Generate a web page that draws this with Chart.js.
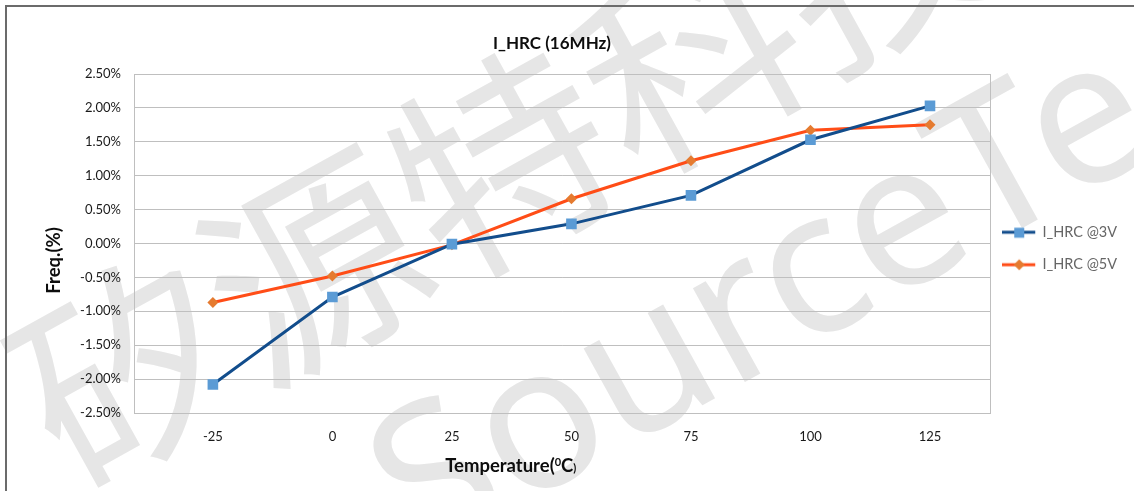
<!DOCTYPE html>
<html>
<head>
<meta charset="utf-8">
<script src="https://cdn.jsdelivr.net/npm/chart.js@4.4.1/dist/chart.umd.min.js"></script>
<style>
    html, body { margin: 0; padding: 0; background: #fff; overflow: hidden; }
    #wrap { position: relative; width: 1134px; height: 491px; }
    #grafico { position: absolute; left: 0; top: 0; }
    #moldura {
        position: absolute; left: 5px; top: 5px; width: 1300px; height: 700px;
        border-top: 2px solid #6b6b6b; border-left: 2px solid #6b6b6b;
        pointer-events: none;
    }
</style>
</head>
<body>
<div id="wrap">
    <canvas id="grafico" width="1134" height="491"></canvas>
    <div id="moldura"></div>
</div>
<script>
// dados
const temperaturas = [-25, 0, 25, 50, 75, 100, 125];
const hrc3V = [-2.08, -0.79, -0.01, 0.29, 0.71, 1.53, 2.03];
const hrc5V = [-0.87, -0.48, -0.02, 0.66, 1.22, 1.67, 1.75];
const nomesSeries = ['I_HRC @3V', 'I_HRC @5V'];
const tituloGrafico = 'I_HRC (16MHz)';
const tituloY = 'Freq.(%)';
const tituloX = ['Temperature(', '0', 'C', ')'];
const marcaDagua = ['矽源特科技', 'SourceTech'];

const azulLinha = '#124d8c';
const azulPonto = '#5b9bd5';
const laranjaLinha = '#ff4d17';
const laranjaPonto = '#e57b30';
const cinzaGrade = '#bfbfbf';

function pontos(valores) {
    return temperaturas.map((t, i) => ({ x: t, y: valores[i] }));
}

// ícone da legenda: linha com marcador no meio
function iconeLegenda(corLinha, corPonto, forma) {
    const c = document.createElement('canvas');
    c.width = 39;
    c.height = 14;
    const g = c.getContext('2d');
    g.strokeStyle = corLinha;
    g.lineWidth = 3;
    g.beginPath();
    g.moveTo(0, 7);
    g.lineTo(33, 7);
    g.stroke();
    g.fillStyle = corPonto;
    if (forma === 'rect') {
        g.fillRect(12, 2.5, 10, 10);
    } else {
        g.beginPath();
        g.moveTo(17, 1.5);
        g.lineTo(22.5, 7);
        g.lineTo(17, 12.5);
        g.lineTo(11.5, 7);
        g.closePath();
        g.fill();
    }
    return c;
}

const icones = [
    iconeLegenda(azulLinha, azulPonto, 'rect'),
    iconeLegenda(laranjaLinha, laranjaPonto, 'rectRot')
];

const pluginFundo = {
    id: 'fundo',
    beforeDraw(chart) {
        const ctx = chart.ctx;
        ctx.save();
        ctx.fillStyle = '#e6e6e6';
        ctx.textBaseline = 'alphabetic';
        ctx.font = '215px "Noto Sans CJK SC"';
        ctx.translate(72, 494);
        ctx.rotate(-29 * Math.PI / 180);
        ctx.fillText(marcaDagua[0], 0, 0);
        ctx.restore();
        ctx.save();
        ctx.fillStyle = '#e6e6e6';
        ctx.font = '200px "Noto Sans"';
        ctx.translate(420, 562);
        ctx.rotate(-29 * Math.PI / 180);
        ctx.fillText(marcaDagua[1], 0, 0);
        ctx.restore();
    },
    beforeDatasetsDraw(chart) {
        const a = chart.chartArea;
        const ctx = chart.ctx;
        ctx.save();
        ctx.strokeStyle = cinzaGrade;
        ctx.lineWidth = 1;
        ctx.strokeRect(Math.round(a.left) + 0.5, Math.round(a.top) + 0.5,
            Math.round(a.right - a.left), Math.round(a.bottom - a.top));
        ctx.restore();
    },
    afterDraw(chart) {
        const a = chart.chartArea;
        const ctx = chart.ctx;
        ctx.save();
        ctx.fillStyle = '#0d0d0d';
        // título do eixo Y
        ctx.font = 'bold 18.5px Lato';
        ctx.textAlign = 'center';
        ctx.textBaseline = 'middle';
        ctx.translate(54, a.top + (a.bottom - a.top) * 0.55);
        ctx.rotate(-Math.PI / 2);
        ctx.fillText(tituloY, 0, 0);
        ctx.restore();

        // título do eixo X com o 0 sobrescrito
        ctx.save();
        ctx.fillStyle = '#0d0d0d';
        ctx.textBaseline = 'alphabetic';
        const grande = 'bold 18.5px Lato';
        const pequeno = 'bold 11px Lato';
        ctx.font = grande;
        const w0 = ctx.measureText(tituloX[0]).width;
        const w2 = ctx.measureText(tituloX[2]).width;
        ctx.font = pequeno;
        const w1 = ctx.measureText(tituloX[1]).width;
        const w3 = ctx.measureText(tituloX[3]).width;
        const total = w0 + w1 + w2 + w3;
        const cx = a.left + (a.right - a.left) * 0.44;
        const base = 472;
        let x = cx - total / 2;
        ctx.font = grande;
        ctx.fillText(tituloX[0], x, base);
        x += w0;
        ctx.font = pequeno;
        ctx.fillText(tituloX[1], x, base - 6);
        x += w1;
        ctx.font = grande;
        ctx.fillText(tituloX[2], x, base);
        x += w2;
        ctx.font = pequeno;
        ctx.fillText(tituloX[3], x, base);
        ctx.restore();
    }
};

const graficoHRC = new Chart(document.getElementById('grafico'), {
    type: 'line',
    data: {
        datasets: [{
            label: nomesSeries[0],
            data: pontos(hrc3V),
            borderColor: azulLinha,
            backgroundColor: azulPonto,
            borderWidth: 3,
            pointStyle: 'rect',
            pointRadius: 7.5,
            pointBorderWidth: 0,
            pointBackgroundColor: azulPonto,
            tension: 0
        }, {
            label: nomesSeries[1],
            data: pontos(hrc5V),
            borderColor: laranjaLinha,
            backgroundColor: laranjaPonto,
            borderWidth: 3,
            pointStyle: 'rectRot',
            pointRadius: 5.5,
            pointBorderWidth: 0,
            pointBackgroundColor: laranjaPonto,
            tension: 0
        }]
    },
    options: {
        responsive: false,
        animation: false,
        events: [],
        layout: {
            padding: { left: -23, right: 7, top: 0, bottom: 0 }
        },
        plugins: {
            title: {
                display: true,
                text: tituloGrafico,
                color: '#0d0d0d',
                font: { family: 'Lato', size: 17, weight: 'bold', lineHeight: 1.2 },
                padding: { top: 33.8, bottom: 19.8 }
            },
            legend: {
                position: 'right',
                title: {
                    display: true,
                    text: '',
                    padding: 0,
                    font: { size: 5, lineHeight: 1.2 }
                },
                labels: {
                    usePointStyle: true,
                    pointStyleWidth: 27,
                    padding: 18,
                    color: '#1a1a1a',
                    font: { family: 'Lato', size: 14.5 },
                    generateLabels: chart => chart.data.datasets.map((ds, i) => ({
                        text: ds.label,
                        pointStyle: icones[i],
                        fillStyle: ds.backgroundColor,
                        strokeStyle: ds.borderColor,
                        lineWidth: 0,
                        hidden: false,
                        datasetIndex: i
                    }))
                }
            },
            tooltip: { enabled: false }
        },
        scales: {
            x: {
                type: 'linear',
                min: -41.5,
                max: 137.6,
                afterBuildTicks: scale => {
                    scale.ticks = temperaturas.map(v => ({ value: v }));
                },
                afterFit: scale => {
                    scale.height = 78;
                },
                ticks: {
                    autoSkip: false,
                    maxRotation: 0,
                    padding: 16,
                    color: '#1a1a1a',
                    font: { family: 'Lato', size: 13 },
                    callback: v => String(v)
                },
                grid: { display: false, drawTicks: false },
                border: { display: false }
            },
            y: {
                min: -2.5,
                max: 2.5,
                afterFit: scale => {
                    scale.width = 157;
                },
                ticks: {
                    stepSize: 0.5,
                    padding: 13,
                    color: '#1a1a1a',
                    font: { family: 'Lato', size: 13 },
                    callback: v => v.toFixed(2) + '%'
                },
                grid: { color: cinzaGrade, lineWidth: 1, drawTicks: false },
                border: { display: false }
            }
        }
    },
    plugins: [pluginFundo]
});
</script>
</body>
</html>
